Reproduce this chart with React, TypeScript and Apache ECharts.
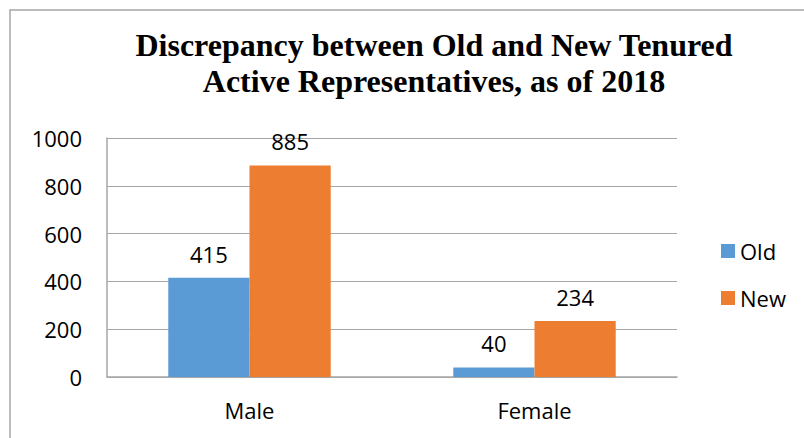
import React, { useEffect, useRef } from "react";
import * as echarts from "echarts";

const categories = ["Male", "Female"];
const oldValues = [415, 40];
const newValues = [885, 234];
const titleLines = ["Discrepancy between Old and New Tenured", "Active Representatives, as of 2018"];
const yTicks = { min: 0, max: 1000, interval: 200 };

const FONT = "'Open Sans', Lato, sans-serif";

export default function App() {
  const ref = useRef<HTMLDivElement>(null);
  useEffect(() => {
    if (!ref.current) return;
    const chart = echarts.init(ref.current, undefined, { renderer: "svg" });
    const labelStyle = {
      show: true,
      position: "top" as const,
      distance: 13,
      color: "#000",
      fontSize: 22,
      fontFamily: FONT,
    };
    chart.setOption({
      animation: false,
      backgroundColor: "#fff",
      graphic: [
        {
          type: "rect",
          shape: { x: 10, y: 10, width: 900, height: 600 },
          style: { fill: "none", stroke: "#a6a6a6", lineWidth: 1.5 },
          silent: true,
        },
      ],
      title: {
        text: titleLines.join("\n"),
        left: 429,
        top: 22,
        textAlign: "center",
        textStyle: {
          fontFamily: "'Liberation Serif', 'Times New Roman', serif",
          fontWeight: "bold",
          fontSize: 32,
          lineHeight: 36,
          color: "#000",
        },
      },
      legend: {
        orient: "vertical",
        left: 716,
        top: 235,
        itemWidth: 14,
        itemHeight: 14,
        itemGap: 25,
        icon: "rect",
        textStyle: { fontSize: 22, fontFamily: FONT, color: "#000" },
        data: ["Old", "New"],
      },
      grid: { left: 107, right: 804 - 677, top: 138, bottom: 438 - 377, containLabel: false },
      xAxis: {
        type: "category",
        data: categories,
        axisLine: { lineStyle: { color: "#a6a6a6", width: 1.5 } },
        axisTick: { show: false },
        axisLabel: { fontSize: 22, fontFamily: FONT, color: "#000", margin: 22 },
      },
      yAxis: {
        type: "value",
        min: yTicks.min,
        max: yTicks.max,
        interval: yTicks.interval,
        axisLine: { show: true, lineStyle: { color: "#a6a6a6", width: 1.5 } },
        axisTick: { show: false },
        splitLine: { lineStyle: { color: "#a6a6a6", width: 1 } },
        axisLabel: {
          fontSize: 22,
          fontFamily: FONT,
          color: "#000",
          margin: 25,
          formatter: (v: number) => String(v),
        },
      },
      series: [
        {
          name: "Old",
          type: "bar",
          data: oldValues,
          itemStyle: { color: "#5b9bd5" },
          barGap: "0%",
          barCategoryGap: "43%",
          label: labelStyle,
        },
        {
          name: "New",
          type: "bar",
          data: newValues,
          itemStyle: { color: "#ed7d31" },
          barGap: "0%",
          barCategoryGap: "43%",
          label: labelStyle,
        },
      ],
    });
    return () => chart.dispose();
  }, []);
  return (
    <div
      ref={ref}
      style={{ position: "fixed", left: 0, top: 0, width: 804, height: 438 }}
    />
  );
}
